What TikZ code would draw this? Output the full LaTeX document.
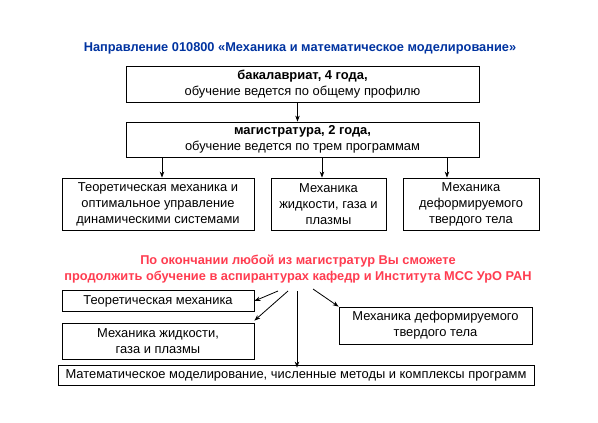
\documentclass[tikz,border=0pt]{standalone}
\usepackage{fontspec}
\setmainfont{Liberation Sans}
\usetikzlibrary{arrows.meta}
\definecolor{titleblue}{RGB}{0,51,160}
\definecolor{notered}{RGB}{255,60,80}
\tikzset{
  box/.style={draw, line width=0.8pt, align=center, inner sep=1pt},
  arr/.style={-{Stealth[length=6pt,width=4.5pt]}, line width=0.8pt},
}
\begin{document}
\begin{tikzpicture}[x=1pt,y=-1pt,font=\fontsize{12.9}{16}\selectfont]
  \useasboundingbox (0,0) rectangle (598,423);
  % title
  \node[font=\fontsize{12.8}{16}\selectfont\bfseries, text=titleblue] (title) at (300,48)
    {Направление 010800 «Механика и математическое моделирование»};
  % levels
  \node[box, minimum width=353, minimum height=36] (bach) at (302.5,84)
    {\textbf{бакалавриат, 4 года,}\\обучение ведется по общему профилю};
  \node[box, minimum width=353, minimum height=35] (mag) at (302.5,139.5)
    {\textbf{магистратура, 2 года,}\\обучение ведется по трем программам};
  \draw[arr] ([xshift=-5]bach.south) -- ([xshift=-5]mag.north);
  % programmes
  \node[box, minimum width=192, minimum height=52] (teor) at (158,204)
    {Теоретическая механика и\\оптимальное управление\\динамическими системами};
  \node[box, minimum width=115, minimum height=52] (fluid) at (328.5,204)
    {Механика\\жидкости, газа и\\плазмы};
  \node[box, minimum width=136, minimum height=52] (solid) at (471,204)
    {Механика\\деформируемого\\твердого тела};
  \coordinate (m1) at (162,157);
  \coordinate (m2) at (322,157);
  \coordinate (m3) at (447,157);
  \draw[arr] (m1) -- (m1 |- teor.north);
  \draw[arr] (m2) -- (m2 |- fluid.north);
  \draw[arr] (m3) -- (m3 |- solid.north);
  % note
  \node[font=\fontsize{12.8}{16}\selectfont\bfseries, text=notered, align=center] (note) at (298,269)
    {По окончании любой из магистратур Вы сможете\\продолжить обучение в аспирантурах кафедр и Института МСС УрО РАН};
  % postgraduate
  \node[box, minimum width=192, minimum height=21] (pteor) at (158,301)
    {Теоретическая механика};
  \node[box, minimum width=192, minimum height=36] (pfluid) at (158,341)
    {Механика жидкости,\\газа и плазмы};
  \node[box, minimum width=193, minimum height=37] (psolid) at (435.5,325.5)
    {Механика деформируемого\\твердого тела};
  \node[box, minimum width=476, minimum height=20] (pmath) at (296,375)
    {Математическое моделирование, численные методы и комплексы программ};
  \coordinate (s1) at (278,291);
  \coordinate (s2) at (288,291);
  \coordinate (s3) at (297,291);
  \coordinate (s4) at (313,289);
  \draw[arr] (s1) -- (pteor.east);
  \draw[arr] (s2) -- ([yshift=2]pfluid.north east);
  \draw[arr] (s3) -- ([yshift=-3]s3 |- pmath.north);
  \draw[arr] (s4) -- (psolid.north west);
\end{tikzpicture}
\end{document}
